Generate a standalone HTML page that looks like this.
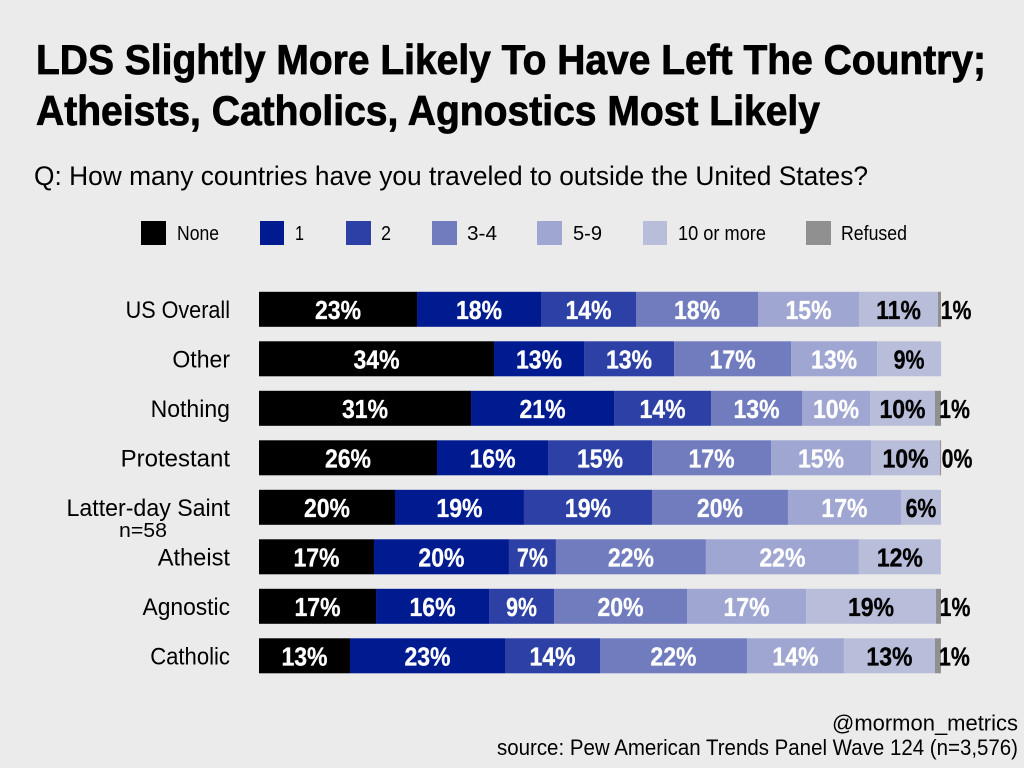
<!DOCTYPE html>
<html lang="en">
<head>
<meta charset="utf-8">
<title>LDS Slightly More Likely To Have Left The Country</title>
<style>
  html, body { margin: 0; padding: 0; background: #ebebeb; }
  svg { display: block; }
  text { font-family: "Liberation Sans", sans-serif; fill: #000; }
</style>
</head>
<body>
<svg id="chart" xmlns="http://www.w3.org/2000/svg" width="1024" height="768" viewBox="0 0 1024 768">
  <rect x="0" y="0" width="1024" height="768" fill="#ebebeb"/>
  <text x="36" y="74" font-size="42" font-weight="700" stroke="#000" stroke-width="0.8" textLength="950" lengthAdjust="spacingAndGlyphs">LDS Slightly More Likely To Have Left The Country;</text>
  <text x="36" y="125" font-size="42" font-weight="700" stroke="#000" stroke-width="0.8" textLength="784" lengthAdjust="spacingAndGlyphs">Atheists, Catholics, Agnostics Most Likely</text>
  <text x="34" y="185" font-size="26.5" textLength="834" lengthAdjust="spacingAndGlyphs">Q: How many countries have you traveled to outside the United States?</text>

  <g>
    <rect x="141" y="221" width="25" height="24" fill="#000000"/>
    <text x="177" y="240" font-size="20" textLength="42" lengthAdjust="spacingAndGlyphs">None</text>
    <rect x="260" y="221" width="24" height="24" fill="#001a8f"/>
    <text x="295" y="240" font-size="20" textLength="9" lengthAdjust="spacingAndGlyphs">1</text>
    <rect x="346" y="221" width="25" height="24" fill="#2c40a5"/>
    <text x="381" y="240" font-size="20" textLength="10" lengthAdjust="spacingAndGlyphs">2</text>
    <rect x="432" y="221" width="25" height="24" fill="#717cbf"/>
    <text x="467" y="240" font-size="20" textLength="30" lengthAdjust="spacingAndGlyphs">3-4</text>
    <rect x="537" y="221" width="25" height="24" fill="#a0a6d2"/>
    <text x="573" y="240" font-size="20" textLength="29" lengthAdjust="spacingAndGlyphs">5-9</text>
    <rect x="643" y="221" width="24" height="24" fill="#b8bed9"/>
    <text x="678" y="240" font-size="20" textLength="88" lengthAdjust="spacingAndGlyphs">10 or more</text>
    <rect x="806" y="221" width="25" height="24" fill="#909090"/>
    <text x="841" y="240" font-size="20" textLength="66" lengthAdjust="spacingAndGlyphs">Refused</text>
  </g>

  <g id="plot"></g>

  <text x="167" y="537" font-size="20" text-anchor="end" textLength="48" lengthAdjust="spacingAndGlyphs">n=58</text>
  <text x="1018" y="730.5" font-size="22" text-anchor="end" textLength="186" lengthAdjust="spacingAndGlyphs">@mormon_metrics</text>
  <text x="1018" y="755" font-size="22" text-anchor="end" textLength="521" lengthAdjust="spacingAndGlyphs">source: Pew American Trends Panel Wave 124 (n=3,576)</text>
</svg>

<script>
const categories = ["US Overall", "Other", "Nothing", "Protestant", "Latter-day Saint", "Atheist", "Agnostic", "Catholic"];
const seriesNames = ["None", "1", "2", "3-4", "5-9", "10 or more", "Refused"];

const noneValues = [23.17, 34.46, 31.09, 26.10, 19.94, 16.86, 17.16, 13.34];
const oneValues = [18.18, 13.20, 20.97, 16.28, 18.91, 19.79, 16.57, 22.73];
const twoValues = [13.93, 13.20, 14.22, 15.25, 18.77, 6.89, 9.53, 13.93];
const threeFourValues = [17.89, 17.16, 13.34, 17.45, 19.94, 21.99, 19.50, 21.55];
const fiveNineValues = [14.81, 12.61, 9.97, 14.66, 16.57, 22.43, 17.45, 14.22];
const tenPlusValues = [11.58, 9.38, 9.53, 10.12, 5.87, 12.02, 19.06, 13.34];
const refusedValues = [0.44, 0, 0.88, 0.15, 0, 0, 0.73, 0.88];

const noneLabels = ["23%", "34%", "31%", "26%", "20%", "17%", "17%", "13%"];
const oneLabels = ["18%", "13%", "21%", "16%", "19%", "20%", "16%", "23%"];
const twoLabels = ["14%", "13%", "14%", "15%", "19%", "7%", "9%", "14%"];
const threeFourLabels = ["18%", "17%", "13%", "17%", "20%", "22%", "20%", "22%"];
const fiveNineLabels = ["15%", "13%", "10%", "15%", "17%", "22%", "17%", "14%"];
const tenPlusLabels = ["11%", "9%", "10%", "10%", "6%", "12%", "19%", "13%"];
const refusedLabels = ["1%", "", "1%", "0%", "", "", "1%", "1%"];

const seriesValues = [noneValues, oneValues, twoValues, threeFourValues, fiveNineValues, tenPlusValues, refusedValues];
const seriesLabels = [noneLabels, oneLabels, twoLabels, threeFourLabels, fiveNineLabels, tenPlusLabels, refusedLabels];
const seriesColors = ["#000000", "#001a8f", "#2c40a5", "#717cbf", "#a0a6d2", "#b8bed9", "#909090"];
const labelColors = ["#ffffff", "#ffffff", "#ffffff", "#ffffff", "#ffffff", "#000000", "#000000"];
const rowLabelFit = [0.90, 0.96, 0.96, 1.0, 0.965, 0.985, 0.95, 0.92];

const SVG_NS = "http://www.w3.org/2000/svg";
const plot = document.getElementById("plot");
const xOrigin = 259;
const pxPerPercent = 6.82;
const yOrigin = 291.8;
const rowStep = 49.5;
const barHeight = 35;

function xScale(v) { return xOrigin + v * pxPerPercent; }
function yScale(i) { return yOrigin + i * rowStep; }
function slug(s) { return s.toLowerCase().replace(/[^a-z0-9]+/g, "-"); }

function squeeze(el, factor) {
  el.setAttribute("textLength", (el.getComputedTextLength() * factor).toFixed(1));
  el.setAttribute("lengthAdjust", "spacingAndGlyphs");
}

categories.forEach(function (cat, i) {
  const rowLabel = document.createElementNS(SVG_NS, "text");
  
  
  rowLabel.setAttribute("x", 230);
  rowLabel.setAttribute("y", yScale(i) + barHeight / 2 + 8.5);
  rowLabel.setAttribute("text-anchor", "end");
  rowLabel.setAttribute("font-size", 24);
  rowLabel.textContent = cat;
  plot.appendChild(rowLabel);
  squeeze(rowLabel, rowLabelFit[i]);

  let cumulative = 0;
  seriesValues.forEach(function (values, s) {
    const v = values[i];
    const x0 = xScale(cumulative);
    const x1 = xScale(cumulative + v);
    cumulative += v;
    if (v > 0) {
      const seg = document.createElementNS(SVG_NS, "rect");
      
      
      seg.setAttribute("x", x0);
      seg.setAttribute("y", yScale(i));
      seg.setAttribute("width", x1 - x0);
      seg.setAttribute("height", barHeight);
      seg.setAttribute("fill", seriesColors[s]);
      plot.appendChild(seg);
    }
    const printed = seriesLabels[s][i];
    if (printed) {
      const offset = s === seriesValues.length - 1 ? 16.5 : 0;
      const t = document.createElementNS(SVG_NS, "text");
      
      
      t.setAttribute("x", (x0 + x1) / 2 + offset);
      t.setAttribute("y", yScale(i) + barHeight / 2 + 9.5);
      t.setAttribute("text-anchor", "middle");
      t.setAttribute("font-size", 26);
      t.setAttribute("font-weight", 700);
      t.setAttribute("stroke", labelColors[s]);
      t.setAttribute("stroke-width", 0.3);
      t.style.fill = labelColors[s];
      t.textContent = printed;
      plot.appendChild(t);
      squeeze(t, printed.length === 2 ? 0.82 : 0.885);
    }
  });
});
</script>
</body>
</html>
